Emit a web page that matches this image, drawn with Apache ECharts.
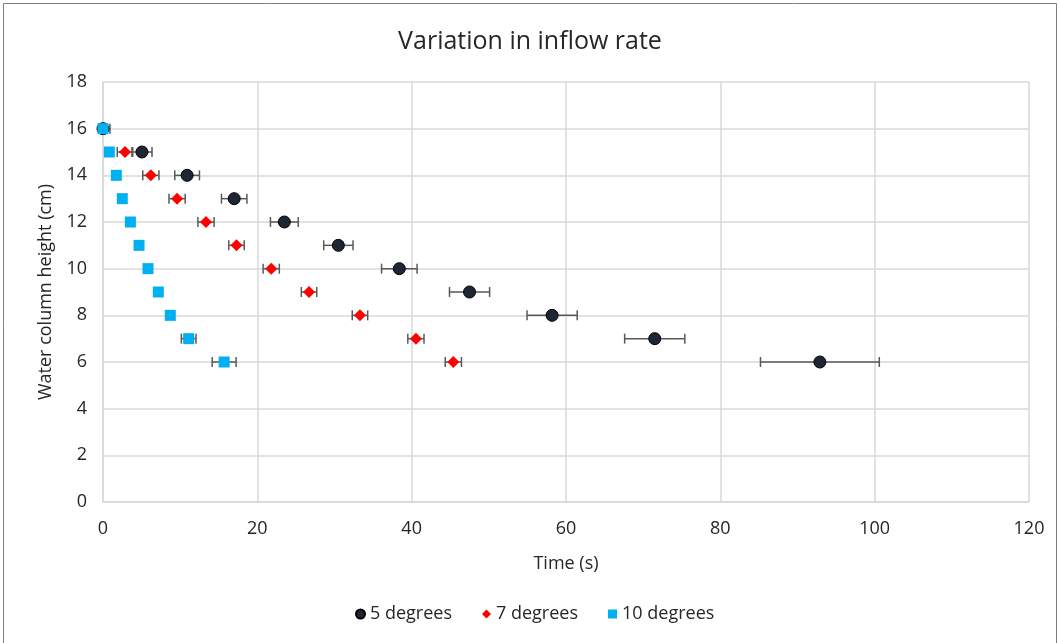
<!DOCTYPE html>
<html>
<head>
<meta charset="utf-8">
<script src="https://cdn.jsdelivr.net/npm/echarts@6/dist/echarts.min.js"></script>
<style>
html, body { margin: 0; padding: 0; background: #fff; }
#charts { width: 1060px; height: 643px; }
</style>
</head>
<body>
<div id="charts"></div>
<script>
var heights = [16, 15, 14, 13, 12, 11, 10, 9, 8, 7, 6];

var t5 = [0, 5.05, 10.9, 17.0, 23.5, 30.5, 38.4, 47.5, 58.2, 71.5, 92.9];
var e5 = [0.9, 1.3, 1.6, 1.65, 1.8, 1.9, 2.3, 2.6, 3.25, 3.9, 7.7];

var t7 = [0, 2.85, 6.2, 9.6, 13.35, 17.3, 21.8, 26.7, 33.3, 40.55, 45.4];
var e7 = [0, 1.0, 1.05, 1.05, 1.05, 1.0, 1.05, 1.0, 1.0, 1.05, 1.05];

var t10 = [0, 0.82, 1.73, 2.5, 3.55, 4.67, 5.83, 7.17, 8.72, 11.1, 15.7];
var e10 = [0, 0.3, 0.3, 0.35, 0.4, 0.45, 0.5, 0.5, 0.5, 0.95, 1.55];

var seriesNames = ['5 degrees', '7 degrees', '10 degrees'];

var font = 'Open Sans';
var txt = '#262626';
var myChart = echarts.init(document.getElementById('charts'));

function pts(t){
	var out = [];
	for(var i = 0; i < t.length; i++){
		out.push([t[i], heights[i]]);
	}
	return out;
}

function errData(t, e){
	var out = [];
	for(var i = 0; i < t.length; i++){
		if(e[i] > 0){
			out.push([t[i], heights[i], e[i]]);
		}
	}
	return out;
}

// horizontal error bar with caps
function renderErr(params, api){
	var x = api.value(0), y = api.value(1), e = api.value(2);
	var a = api.coord([x - e, y]);
	var b = api.coord([x + e, y]);
	var st = { stroke: '#595959', lineWidth: 1.5 };
	return {
		type: 'group',
		children: [
			{ type: 'line', shape: { x1: a[0], y1: a[1], x2: b[0], y2: b[1] }, style: st },
			{ type: 'line', shape: { x1: a[0], y1: a[1] - 5, x2: a[0], y2: a[1] + 5 }, style: st },
			{ type: 'line', shape: { x1: b[0], y1: b[1] - 5, x2: b[0], y2: b[1] + 5 }, style: st }
		]
	};
}

function errSeries(name, t, e){
	return {
		name: name,
		type: 'custom',
		renderItem: renderErr,
		data: errData(t, e),
		clip: true,
		z: 1,
		silent: true,
		encode: { x: 0, y: 1 }
	};
}

var option = {
	animation: false,
	backgroundColor: '#fff',
	title: {
		text: 'Variation in inflow rate',
		left: 'center',
		top: 24,
		textStyle: { fontFamily: font, fontSize: 25, fontWeight: 'normal', color: txt }
	},
	legend: {
		data: seriesNames,
		bottom: 15,
		left: 350,
		itemWidth: 9,
		itemHeight: 9,
		itemGap: 30,
		textStyle: { fontFamily: font, fontSize: 18, color: txt }
	},
	grid: { left: 103, right: 31, top: 82, bottom: 141 },
	xAxis: {
		type: 'value',
		min: 0,
		max: 120,
		interval: 20,
		name: 'Time (s)',
		nameLocation: 'middle',
		nameGap: 53,
		nameTextStyle: { fontFamily: font, fontSize: 18, color: txt },
		axisLine: { show: true, lineStyle: { color: '#d9d9d9', width: 1.5 } },
		axisTick: { show: false },
		axisLabel: { fontFamily: font, fontSize: 18, color: txt, margin: 18 },
		splitLine: { show: true, lineStyle: { color: '#d9d9d9', width: 1.5 } }
	},
	yAxis: {
		type: 'value',
		min: 0,
		max: 18,
		interval: 2,
		name: 'Water column height (cm)',
		nameLocation: 'middle',
		nameGap: 48,
		nameTextStyle: { fontFamily: font, fontSize: 18, color: txt },
		axisLine: { show: true, lineStyle: { color: '#d9d9d9', width: 1.5 } },
		axisTick: { show: false },
		axisLabel: { fontFamily: font, fontSize: 18, color: txt, margin: 16 },
		splitLine: { show: true, lineStyle: { color: '#d9d9d9', width: 1.5 } }
	},
	graphic: [{
		type: 'rect',
		shape: { x: 3.5, y: 3.5, width: 1053, height: 700 },
		style: { fill: 'none', stroke: '#7f7f7f', lineWidth: 1 },
		silent: true
	}],
	series: [
		errSeries('err5', t5, e5),
		errSeries('err7', t7, e7),
		errSeries('err10', t10, e10),
		{
			name: seriesNames[0],
			type: 'scatter',
			symbol: 'circle',
			symbolSize: 12,
			data: pts(t5),
			z: 3,
			itemStyle: { color: '#1f2633', borderColor: '#000', borderWidth: 1, opacity: 1 }
		},
		{
			name: seriesNames[1],
			type: 'scatter',
			symbol: 'diamond',
			symbolSize: 12,
			data: pts(t7),
			z: 4,
			itemStyle: { color: '#ff0000', opacity: 1 }
		},
		{
			name: seriesNames[2],
			type: 'scatter',
			symbol: 'rect',
			symbolSize: 11,
			data: pts(t10),
			z: 5,
			itemStyle: { color: '#00b0f0', opacity: 1 }
		}
	]
};

myChart.setOption(option);
</script>
</body>
</html>
